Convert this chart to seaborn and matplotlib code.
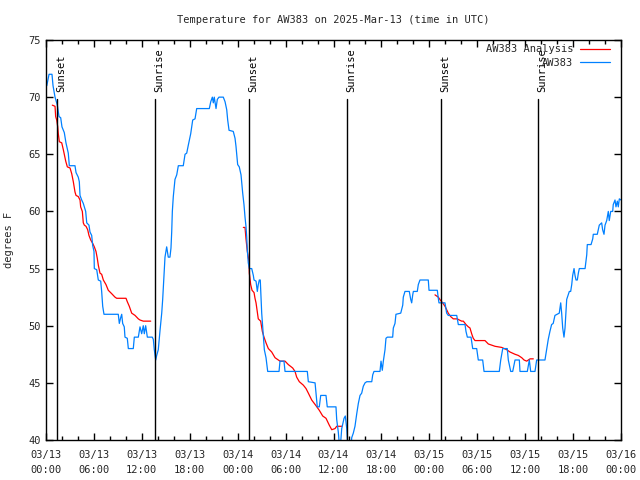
import numpy as np
import pandas as pd
import matplotlib
matplotlib.use("Agg")
import matplotlib.pyplot as plt
from matplotlib.lines import Line2D
import seaborn as sns

# hours since 03/13 00:00 UTC, temperature in degrees F
obs_hours = [0.1, 0.38, 0.75, 0.88, 1.13, 1.42, 1.63, 1.84, 2.0, 2.17, 2.29, 2.5, 2.79, 2.92,
             3.63, 3.76, 4.04, 4.17, 4.26, 4.47, 4.67, 4.97, 5.1, 5.38, 5.51, 5.72, 5.85, 6.01,
             6.05, 6.35, 6.55, 6.85, 6.97, 7.1, 7.26, 9.05, 9.18, 9.35, 9.48, 9.6, 9.8, 9.89,
             10.18, 10.31, 10.93, 11.06, 11.56, 11.77, 11.98, 12.18, 12.31, 12.48, 12.69, 13.31,
             13.44, 13.56, 13.74, 13.86, 14.06, 14.28, 14.49, 14.61, 14.9, 15.11, 15.31, 15.52,
             15.65, 15.74, 15.82, 15.94, 16.15, 16.37, 16.57, 17.19, 17.41, 17.62, 17.82, 18.12,
             18.37, 18.66, 18.87, 20.45, 20.63, 20.83, 20.95, 21.07, 21.29, 21.45, 21.66, 22.2,
             22.42, 22.63, 22.75, 22.92, 23.45, 23.67, 23.79, 24.0, 24.2, 24.42, 24.5, 24.63,
             24.79, 24.92, 25.04, 25.13, 25.21, 25.33, 25.46, 25.76, 25.96, 26.05, 26.3, 26.46,
             26.58, 26.71, 26.83, 26.92, 27.01, 27.13, 27.21, 27.34, 27.55, 27.76, 29.18, 29.3,
             29.8, 29.93, 32.72, 32.85, 33.69, 33.81, 33.97, 34.22, 34.4, 35.06, 35.22, 36.31,
             36.4, 36.6, 36.81, 37.03, 37.32, 37.48, 37.66, 37.82, 38.16, 38.28, 38.48, 38.69,
             38.91, 39.11, 39.32, 39.53, 39.73, 39.95, 40.16, 40.79, 40.91, 41.07, 41.82, 41.95,
             42.11, 42.24, 42.45, 42.57, 42.74, 43.41, 43.49, 43.7, 43.82, 44.42, 44.67, 44.74,
             44.95, 45.49, 45.67, 45.79, 45.92, 46.0, 46.49, 46.62, 46.83, 47.87, 47.96, 49.0,
             49.12, 49.21, 49.46, 49.96, 50.17, 50.37, 51.43, 51.63, 52.47, 52.59, 52.76, 53.22,
             53.43, 53.93, 54.13, 54.68, 54.85, 56.76, 56.94, 57.19, 57.76, 57.89, 58.19, 58.44,
             58.73, 59.27, 59.35, 60.27, 60.52, 60.69, 61.23, 61.44, 62.48, 62.69, 62.89, 63.1,
             63.31, 63.51, 63.73, 64.27, 64.45, 64.57, 64.7, 64.86, 64.99, 65.2, 65.53, 65.7,
             65.83, 65.95, 66.12, 66.24, 66.37, 66.53, 66.66, 66.78, 67.5, 67.71, 67.78, 68.25,
             68.46, 68.53, 69.03, 69.16, 69.28, 69.58, 69.7, 69.87, 70.0, 70.21, 70.41, 70.53,
             70.71, 70.96, 71.03, 71.25, 71.37, 71.54, 71.66, 71.79, 72.0]
obs_temps = [71, 72, 72, 71, 70, 69.3, 68.3, 68.2, 67.4, 67.1, 66.9, 66, 65.1, 64,
             64, 63.4, 63, 62.6, 61.4, 61, 60.7, 60, 59, 58.8, 58.2, 57.9, 57, 56.5,
             55, 54.9, 54, 53.9, 53, 51.7, 51, 51, 50.2, 50.7, 51, 50.2, 49.9, 49,
             48.9, 48, 48, 49, 49, 49.9, 49.3, 50, 49.3, 50, 49, 49,
             48.8, 47.9, 47, 47.4, 47.9, 49.6, 51.1, 52.3, 56, 56.9, 56, 56,
             56.8, 58.2, 60, 61.3, 62.8, 63.2, 64, 64, 65, 65.1, 65.8, 66.8,
             68, 68.1, 69, 69, 69.6, 70, 69.5, 70, 69, 69.8, 70, 70,
             69.6, 68.9, 68, 67.1, 67, 66.4, 65.7, 64.1, 63.9, 63.2, 62.6, 61.6,
             60.6, 59.5, 58.7, 57.8, 56.6, 55.5, 55, 55, 54.4, 54, 53.9, 53,
             53.6, 54, 54, 52.5, 51.1, 49.9, 49, 47.9, 47.2, 46, 46, 46.9,
             46.9, 46, 46, 45.1, 45, 44.1, 42.9, 42.9, 43.9, 43.9, 42.9, 42.9,
             41.8, 40.7, 39, 41, 41.9, 42.1, 41, 39, 39, 40.2, 40.6, 41.2,
             42.3, 43.2, 43.9, 44.1, 44.7, 45, 45.1, 45.1, 45.7, 46, 46, 46.9,
             46.1, 46.9, 47.9, 48.9, 49, 49, 49.8, 50.2, 51, 51.1, 51.8, 52.5,
             53, 53, 52.3, 52, 52.7, 53, 53, 53.6, 54, 54, 53.1, 53.1,
             52.4, 52, 52, 52, 51.1, 50.9, 50.9, 50.1, 50.1, 49.5, 49, 49,
             48, 48, 47, 47, 46, 46, 47, 48, 48, 47, 46, 46,
             47, 47, 46, 46, 47, 46, 46, 47, 47, 47.9, 48.8, 49.5,
             50.1, 50.2, 50.9, 51.1, 52, 51.1, 49.8, 49, 49.8, 52.3, 53, 53,
             53.6, 54.4, 55, 54.4, 54, 54, 54.6, 55, 55, 56.2, 57.1, 57.1,
             57.6, 58, 58, 58.4, 58.8, 59, 58.4, 58, 58.8, 59.2, 60, 59.2,
             60, 60, 60.6, 61, 60.4, 60.9, 60.4, 61.1, 61]

# analysis series, three separate night-time runs
ana_hours_1 = [0.79, 1.13, 1.21, 1.34, 1.47, 1.54, 1.67, 1.97, 2.17, 2.29, 2.47, 2.67, 3.01,
               3.22, 3.42, 3.63, 3.76, 4.04, 4.26, 4.34, 4.55, 4.67, 4.8, 5.01, 5.22, 5.38,
               5.6, 5.85, 6.05, 6.26, 6.42, 6.55, 6.76, 6.97, 7.18, 7.51, 7.8, 8.23, 8.64,
               8.85, 10.02, 10.18, 10.43, 10.73, 11.15, 11.56, 11.77, 12.18, 13.11]
ana_temps_1 = [69.3, 69.2, 68.3, 68, 67.4, 66.8, 66.1, 66, 65.4, 65, 64.4, 63.9, 63.8,
               63.3, 62.6, 61.7, 61.4, 61.3, 61, 60.4, 60, 59, 58.8, 58.7, 58.4, 57.9,
               57.5, 57.2, 56.9, 56.5, 55.9, 55.3, 54.6, 54.5, 54, 53.6, 53.1, 52.8, 52.5,
               52.4, 52.4, 52.1, 51.7, 51.1, 50.9, 50.6, 50.5, 50.4, 50.4]
ana_hours_2 = [24.71, 24.92, 25.04, 25.21, 25.42, 25.46, 25.63, 25.8, 26.05, 26.17, 26.3,
               26.46, 26.58, 26.88, 27.09, 27.3, 27.55, 27.84, 28.26, 28.68, 29.3, 29.93,
               30.34, 30.89, 31.18, 31.39, 31.72, 32.22, 32.56, 32.85, 33.27, 33.81, 34.22,
               34.65, 35.06, 35.47, 35.78, 36.19, 36.4, 37.03]
ana_temps_2 = [58.6, 58.6, 57.6, 56.5, 55.6, 54.6, 53.6, 53.1, 52.9, 52.4, 52,
               51.2, 50.6, 50.4, 49.5, 49, 48.5, 48, 47.7, 47.2, 46.9, 46.9,
               46.6, 46.3, 46, 45.5, 45.1, 44.8, 44.5, 44.1, 43.5, 43, 42.6,
               42.1, 41.9, 41.3, 40.9, 41, 41.2, 41.2]
ana_hours_3 = [48.71, 49.12, 49.42, 49.67, 49.96, 50.17, 50.37, 50.67, 51.0, 51.5, 51.75,
               52.05, 52.26, 52.59, 52.88, 53.09, 53.3, 53.5, 53.72, 54.97, 55.39, 55.81,
               56.22, 57.06, 57.69, 58.1, 58.73, 59.14, 59.57, 59.86, 60.19, 60.61, 61.02]
ana_temps_3 = [52.7, 52.5, 52.2, 52, 51.7, 51.4, 51.1, 50.8, 50.6, 50.6, 50.5,
               50.4, 50.4, 50.1, 49.9, 49.8, 49.3, 48.9, 48.7, 48.7, 48.4, 48.3,
               48.2, 48.1, 47.9, 47.7, 47.5, 47.4, 47.2, 47, 46.9, 47.1, 47.1]

sun_hours = [1.42, 13.69, 25.46, 37.73, 49.5, 61.65]
sun_labels = ["Sunset", "Sunrise", "Sunset", "Sunrise", "Sunset", "Sunrise"]

tick_hours = [0, 6, 12, 18, 24, 30, 36, 42, 48, 54, 60, 66, 72]
tick_labels = ["03/13\n00:00", "03/13\n06:00", "03/13\n12:00", "03/13\n18:00",
               "03/14\n00:00", "03/14\n06:00", "03/14\n12:00", "03/14\n18:00",
               "03/15\n00:00", "03/15\n06:00", "03/15\n12:00", "03/15\n18:00",
               "03/16\n00:00"]

RED = "#ff0000"
BLUE = "#0080ff"


def main() -> None:
    sns.set_theme(style="ticks")
    plt.rcParams["font.family"] = ["DejaVu Sans Mono"]
    fs = 7.5

    obs = pd.DataFrame({"hour": obs_hours, "temp": obs_temps})
    ana = pd.concat([
        pd.DataFrame({"hour": ana_hours_1, "temp": ana_temps_1, "run": 1}),
        pd.DataFrame({"hour": ana_hours_2, "temp": ana_temps_2, "run": 2}),
        pd.DataFrame({"hour": ana_hours_3, "temp": ana_temps_3, "run": 3}),
    ])

    fig = plt.figure(figsize=(6.4, 4.8), dpi=100)
    ax = fig.add_axes([46 / 640, 40 / 480, 575 / 640, 400 / 480])

    sns.lineplot(data=ana, x="hour", y="temp", units="run", estimator=None, sort=False,
                 color=RED, linewidth=0.9, ax=ax, legend=False)
    sns.lineplot(data=obs, x="hour", y="temp", estimator=None, sort=False,
                 color=BLUE, linewidth=0.9, ax=ax, legend=False)

    # sunrise / sunset markers
    for h, lab in zip(sun_hours, sun_labels):
        ax.plot([h, h], [40, 69.8], color="black", linewidth=1.0)
        ax.text(h - 0.15, 70.45, lab, rotation=90, ha="left", va="bottom",
                fontsize=fs, color="black")

    ax.set_xlim(0, 72)
    ax.set_ylim(40, 75)
    ax.set_xticks(tick_hours)
    ax.set_xticklabels(tick_labels, fontsize=fs, linespacing=1.6)
    ax.set_xticks(np.arange(0, 73, 2), minor=True)
    ax.set_yticks(np.arange(40, 76, 5))
    ax.tick_params(axis="y", labelsize=fs, pad=4)
    ax.tick_params(axis="x", pad=7)
    ax.tick_params(which="major", direction="in", length=5, width=1,
                   top=True, right=True, color="black")
    ax.tick_params(which="minor", direction="in", length=3, width=1,
                   top=True, color="black")
    for s in ax.spines.values():
        s.set_visible(True)
        s.set_color("black")
        s.set_linewidth(1.0)

    ax.set_xlabel("")
    ax.set_ylabel("degrees F", fontsize=fs, labelpad=10)
    ax.set_title("Temperature for AW383 on 2025-Mar-13 (time in UTC)",
                 fontsize=fs, pad=12)

    handles = [Line2D([0], [0], color=RED, linewidth=0.9),
               Line2D([0], [0], color=BLUE, linewidth=0.9)]
    ax.legend(handles, ["AW383 Analysis", "AW383"], loc="upper right",
              bbox_to_anchor=(1.0 - 4 / 575, 1.0 + 3 / 400), frameon=False,
              markerfirst=False, fontsize=fs, handlelength=2.9, handletextpad=0.6,
              labelspacing=0.35, borderaxespad=0.3)

    fig.savefig("out.png", dpi=100)


if __name__ == "__main__":
    main()
